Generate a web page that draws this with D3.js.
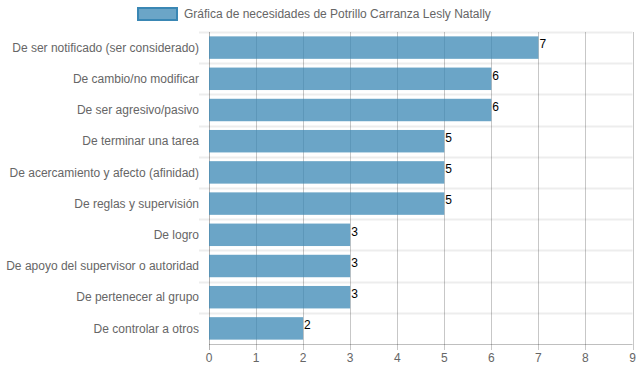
<!DOCTYPE html>
<html><head><meta charset="utf-8">
<script src="https://cdn.jsdelivr.net/npm/d3@7"></script>
<style>body{margin:0;background:#fff;}svg{display:block;font-family:"Liberation Sans",Arial,Helvetica,sans-serif;}</style>
</head><body><svg id="c" width="639" height="372"></svg>
<script>
const categories = ["De ser notificado (ser considerado)","De cambio/no modificar","De ser agresivo/pasivo","De terminar una tarea","De acercamiento y afecto (afinidad)","De reglas y supervisión","De logro","De apoyo del supervisor o autoridad","De pertenecer al grupo","De controlar a otros"];
const values = [7,6,6,5,5,5,3,3,3,2];
const xTicks = [0,1,2,3,4,5,6,7,8,9];
const seriesName = "Gráfica de necesidades de Potrillo Carranza Lesly Natally";

(function(){
const svg = d3.select("#c");
const pLeft = 209, pRight = 632.5, pTop = 32, pBottom = 344;
const x = d3.scaleLinear().domain([0,9]).range([pLeft,pRight]);
const y = d3.scaleBand().domain(categories).range([pTop,pBottom]).paddingInner(0).paddingOuter(0);
const barH = y.bandwidth()*0.72;
const baseColor = "rgb(58,135,180)";
const fillColor = "rgba(58,135,180,0.75)";

// horizontal grid (category boundaries)
const hg = svg.append("g");
categories.forEach(c=>{
  const b = Math.round(y(c))+0.5;
  hg.append("line").attr("x1",pLeft-10).attr("x2",pRight).attr("y1",b).attr("y2",b)
    .attr("stroke","rgba(0,0,0,0.07)").attr("stroke-width",2);
});
// vertical grid
const vg = svg.append("g");
xTicks.forEach(t=>{
  const xx = Math.round(x(t))+0.5;
  vg.append("line").attr("x1",xx).attr("x2",xx).attr("y1",pTop).attr("y2",pBottom+6)
    .attr("stroke", t===0 ? "rgba(0,0,0,0.3)" : "rgba(0,0,0,0.22)").attr("stroke-width",1);
});
// x axis line
svg.append("line").attr("x1",pLeft).attr("x2",pRight).attr("y1",pBottom+0.5).attr("y2",pBottom+0.5)
  .attr("stroke","rgba(0,0,0,0.25)");

// bars
svg.append("g").selectAll("rect").data(values).join("rect")
  .attr("x",x(0)).attr("y",(d,i)=>y(categories[i])+(y.bandwidth()-barH)/2)
  .attr("width",d=>x(d)-x(0)).attr("height",barH).attr("fill",fillColor);

// value labels
svg.append("g").selectAll("text").data(values).join("text")
  .attr("x",d=>x(d)+1).attr("y",(d,i)=>y(categories[i])+(y.bandwidth()-barH)/2+12)
  .attr("font-size",12).attr("fill","#000").text(d=>d);

// category labels
svg.append("g").selectAll("text").data(categories).join("text")
  .attr("x",pLeft-10).attr("y",c=>y(c)+y.bandwidth()/2).attr("dy","0.35em")
  .attr("text-anchor","end").attr("font-size",12).attr("fill","#666").text(c=>c);

// x tick labels
svg.append("g").selectAll("text").data(xTicks).join("text")
  .attr("x",t=>x(t)).attr("y",358).attr("dy","0.35em")
  .attr("text-anchor","middle").attr("font-size",12).attr("fill","#666").text(t=>t);

// legend
svg.append("rect").attr("x",138).attr("y",8).attr("width",39).attr("height",12)
  .attr("fill",fillColor).attr("stroke",baseColor).attr("stroke-width",2);
svg.append("text").attr("x",184).attr("y",14).attr("dy","0.35em").attr("font-size",12)
  .attr("fill","#666").text(seriesName);
})();
</script></body></html>
